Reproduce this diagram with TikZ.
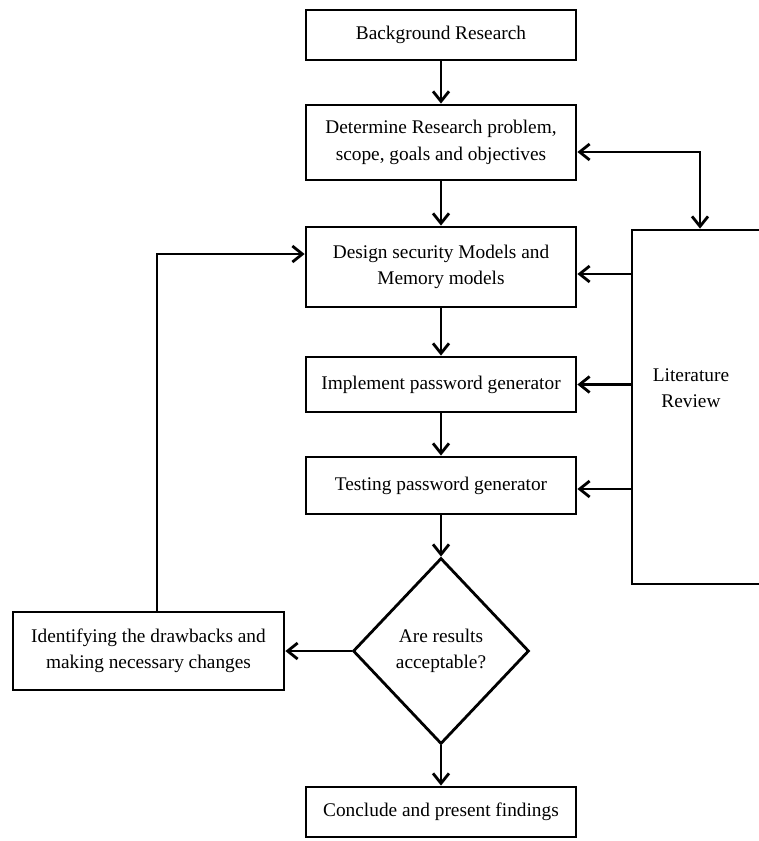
\documentclass[tikz,border=0pt]{standalone}
\usepackage{fontspec}
\setmainfont{Liberation Serif}
\usepackage{tikz}
\usetikzlibrary{positioning,arrows.meta,calc,shapes.geometric}

\tikzset{
  stepbox/.style={draw,line width=1.6pt,minimum width=5.4cm,align=center,inner sep=2pt,font=\fontsize{11}{15}\selectfont},
  choice/.style={draw,diamond,line width=1.6pt,minimum width=3.52cm,minimum height=3.72cm,inner sep=0pt,align=center,font=\fontsize{11}{15}\selectfont},
  flow/.style={->,line width=1.6pt}
}

\begin{document}
\begin{tikzpicture}[x=0.02cm,y=-0.02cm,>={Straight Barb[length=2mm,width=3.2mm]}]
\useasboundingbox (0,0) rectangle (759,841);
\node (bg) [stepbox,minimum height=1cm] at (441,35) {Background Research};
\node (det) [stepbox,minimum height=1.5cm] at (441,142.5) {Determine Research problem,\\ scope, goals and objectives};
\node (design) [stepbox,minimum height=1.6cm] at (441,267) {Design security Models and\\ Memory models};
\node (impl) [stepbox,minimum height=1.1cm] at (441,384.5) {Implement password generator};
\node (test) [stepbox,minimum height=1.14cm] at (441,485.5) {Testing password generator};
\node (dec) [choice] at (441,651) {Are results\\ acceptable?};
\node (idf) [stepbox,minimum width=5.42cm,minimum height=1.56cm] at (148.5,651) {Identifying the drawbacks and\\ making necessary changes};
\node (concl) [stepbox,minimum height=1cm] at (441,812) {Conclude and present findings};
\node (lit) [draw,line width=1.6pt,minimum width=2.6cm,minimum height=7.08cm] at (697,407) {};
\node (littext) [align=center,font=\fontsize{11}{15}\selectfont] at (691,388) {Literature\\ Review};
\draw[flow] (bg) -- (det);
\draw[flow] (det) -- (design);
\draw[flow] (design) -- (impl);
\draw[flow] (impl) -- (test);
\draw[flow] (test) -- (dec);
\draw[flow] (dec) -- (concl);
\draw[flow] (dec) -- (idf);
\draw[<->,line width=1.6pt] ([yshift=-0.19cm]det.east) -| ([xshift=0.06cm]lit.north);
\draw[flow] ([yshift=-0.14cm]design.east -| lit.west) -- ([yshift=-0.14cm]design.east);
\draw[flow] (impl.east -| lit.west) -- (impl.east);
\draw[flow] ([yshift=-0.07cm]test.east -| lit.west) -- ([yshift=-0.07cm]test.east);
\draw[flow] ([xshift=0.17cm]idf.north) |- ([yshift=0.26cm]design.west);
\end{tikzpicture}
\end{document}
